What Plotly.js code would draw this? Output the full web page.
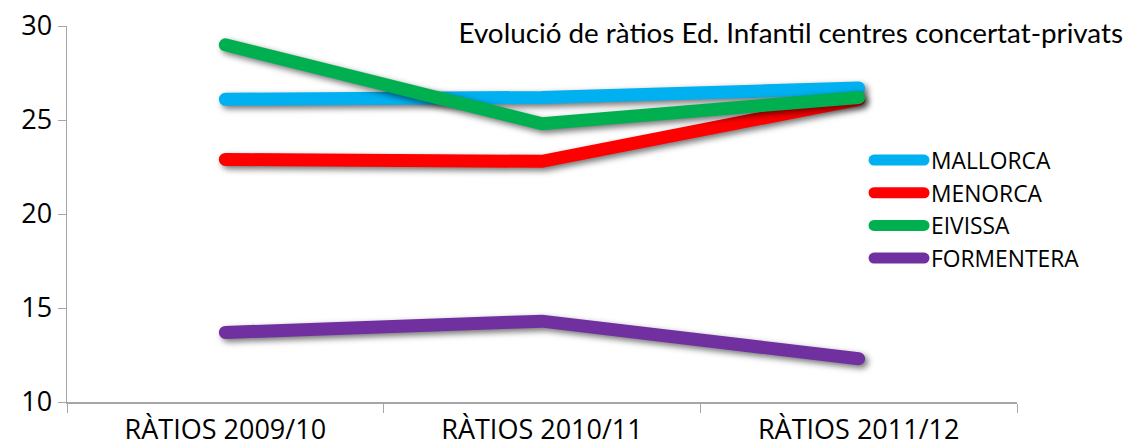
<!DOCTYPE html>
<html><head><meta charset="utf-8">
<script src="https://cdn.plot.ly/plotly-3.0.1.min.js"></script>
<style>
html,body{margin:0;padding:0;background:#fff;}
#chart{width:1127px;height:448px;}
.scatterlayer .trace path.js-line{stroke-linecap:round;filter:drop-shadow(3px 3px 3px rgba(0,0,0,0.55));}
.legend .scrollbox{clip-path:none !important;}
.legend .legendlines path.js-line{d:path("M-17,0h50");stroke-linecap:round !important;stroke-width:11px !important;}
</style></head>
<body><div id="chart"></div>
<script>
const categories = ["RÀTIOS 2009/10", "RÀTIOS 2010/11", "RÀTIOS 2011/12"];
const seriesNames = ["MALLORCA", "MENORCA", "EIVISSA", "FORMENTERA"];
const mallorca = [26.1, 26.2, 26.7];
const menorca = [22.9, 22.8, 26.1];
const eivissa = [29.0, 24.8, 26.2];
const formentera = [13.7, 14.3, 12.3];
const colors = ["#00b0f0", "#ff0000", "#00b050", "#7030a0"];
const yTicks = [10, 15, 20, 25, 30];

const values = [mallorca, menorca, eivissa, formentera];
const traces = values.map((v, i) => ({
  type: "scatter", mode: "lines", x: categories, y: v, name: seriesNames[i],
  line: {color: colors[i], width: 13}
}));

const font = "'Open Sans', 'Noto Sans', sans-serif";
const layout = {
  width: 1127, height: 448,
  margin: {l: 67, r: 110, t: 26, b: 46},
  paper_bgcolor: "#fff", plot_bgcolor: "#fff",
  showlegend: true,
  title: {
    text: "Evolució de ràtios Ed. Infantil centres concertat-privats",
    font: {family: "Lato, sans-serif", size: 27.8, color: "#000"},
    xref: "container", x: 1123/1127, xanchor: "right",
    yref: "container", y: 1 - 33/448, yanchor: "middle"
  },
  xaxis: {
    type: "category", range: [-0.5, 2.5],
    showline: true, linecolor: "#a6a6a6", linewidth: 1.5,
    ticks: "outside", tickson: "boundaries", ticklen: 9, tickcolor: "#a6a6a6",
    ticklabelstandoff: 3,
    showgrid: false, zeroline: false,
    tickfont: {family: font, size: 27, color: "#000"}
  },
  yaxis: {
    range: [10, 30], tickvals: yTicks, ticktext: yTicks.map(String),
    showline: true, linecolor: "#a6a6a6", linewidth: 1.5,
    ticks: "outside", ticklen: 8, tickcolor: "#a6a6a6",
    showgrid: false, zeroline: false,
    tickfont: {family: font, size: 27, color: "#000"}
  },
  legend: {
    x: 0.8674, xanchor: "left", y: 0.70, yanchor: "top",
    font: {family: font, size: 22.8, color: "#000"},
    bgcolor: "rgba(0,0,0,0)", itemwidth: 30
  }
};

Plotly.newPlot("chart", traces, layout, {displayModeBar: false, staticPlot: true});
</script></body></html>
